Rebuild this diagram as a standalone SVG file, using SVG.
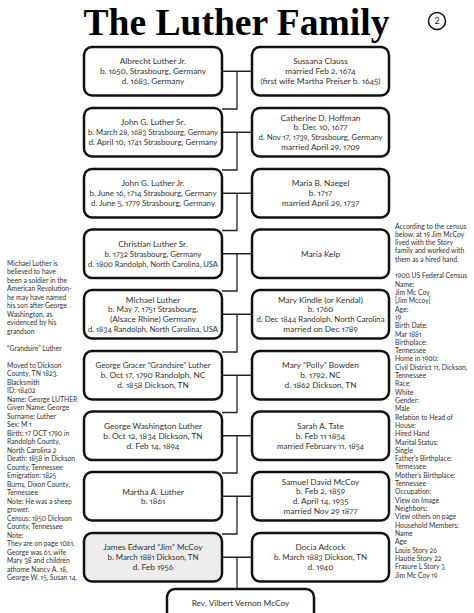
<svg xmlns="http://www.w3.org/2000/svg" width="474" height="613" viewBox="0 0 474 613">
<style>
.bg{fill:#fff}
.box{fill:#fff;stroke:#111;stroke-width:2.5}
.hl{fill:#ececec}
.conn{stroke:#222;stroke-width:1.3;fill:none}
.t{font-family:Lato,"Open Sans",sans-serif;font-size:8.3px;fill:#333;text-anchor:middle;font-variant-numeric:oldstyle-nums proportional-nums}
.s{font-family:Lato,"Open Sans",sans-serif;font-size:6.8px;fill:#333;font-variant-numeric:oldstyle-nums proportional-nums}
.title{font-family:"Liberation Serif","DejaVu Serif",serif;font-weight:bold;font-size:38px;fill:#000;text-anchor:middle}
</style>
<rect class="bg" x="0" y="0" width="474" height="613"/>
<g id="title">
<text class="title" x="236.5" y="35" textLength="306" lengthAdjust="spacingAndGlyphs">The Luther Family</text>
</g>
<g id="page-number">
<circle cx="437" cy="21" r="8.5" fill="#fff" stroke="#111" stroke-width="1.5"/>
<text x="437" y="24.2" style="font-family:Lato,sans-serif;font-size:9px;text-anchor:middle;fill:#111">2</text>
</g>
<g id="connectors">
<path class="conn" d="M217,71.25H256M237,71.25V109H222"/>
<path class="conn" d="M217,132.25H256M237,132.25V170H222"/>
<path class="conn" d="M217,193.25H256M237,193.25V230.5H222"/>
<path class="conn" d="M217,253.75H256M237,253.75V291H222"/>
<path class="conn" d="M217,314.25H256M237,314.25V352H222"/>
<path class="conn" d="M217,375.25H256M237,375.25V412.5H222"/>
<path class="conn" d="M217,435.75H256M237,435.75V473H222"/>
<path class="conn" d="M217,496.25H256M237,496.25V534H222"/>
<path class="conn" d="M217,557.25H256M237,557.25V589"/>
</g>
<g id="albrecht">
<rect class="box" x="84" y="47" width="138" height="48.5" rx="8"/>
<text class="t" x="153" y="64.05">Albrecht Luther Jr.</text>
<text class="t" x="153" y="74.25">b. 1650, Strasbourg, Germany</text>
<text class="t" x="153" y="84.45">d. 1683, Germany</text>
</g>
<g id="sussana">
<rect class="box" x="252" y="47" width="137" height="48.5" rx="8"/>
<text class="t" x="320.5" y="64.05">Sussana Clauss</text>
<text class="t" x="320.5" y="74.25">married Feb 2, 1674</text>
<text class="t" x="320.5" y="84.45" textLength="120" lengthAdjust="spacingAndGlyphs">(first wife Martha Preiser b. 1645)</text>
</g>
<g id="john-sr">
<rect class="box" x="84" y="108" width="138" height="48.5" rx="8"/>
<text class="t" x="153" y="125.05">John G. Luther Sr.</text>
<text class="t" x="153" y="135.25" textLength="130" lengthAdjust="spacingAndGlyphs">b. March 28, 1683 Strasbourg, Germany</text>
<text class="t" x="153" y="145.45" textLength="129" lengthAdjust="spacingAndGlyphs">d. April 10, 1741 Strasbourg, Germany</text>
</g>
<g id="catherine">
<rect class="box" x="252" y="108" width="137" height="48.5" rx="8"/>
<text class="t" x="320.5" y="120.85">Catherine D. Hoffman</text>
<text class="t" x="320.5" y="130.45">b. Dec 10, 1677</text>
<text class="t" x="320.5" y="140.05" textLength="124" lengthAdjust="spacingAndGlyphs">d. Nov 17, 1739, Strasbourg, Germany</text>
<text class="t" x="320.5" y="149.65">married April 29, 1709</text>
</g>
<g id="john-jr">
<rect class="box" x="84" y="169" width="138" height="48.5" rx="8"/>
<text class="t" x="153" y="186.05">John G. Luther Jr.</text>
<text class="t" x="153" y="196.25" textLength="127" lengthAdjust="spacingAndGlyphs">b. June 16, 1714 Strasbourg, Germany</text>
<text class="t" x="153" y="206.45" textLength="124" lengthAdjust="spacingAndGlyphs">d. June 5, 1779 Strasbourg, Germany</text>
</g>
<g id="maria-naegel">
<rect class="box" x="252" y="169" width="137" height="48.5" rx="8"/>
<text class="t" x="320.5" y="186.05">Maria B. Naegel</text>
<text class="t" x="320.5" y="196.25">b. 1717</text>
<text class="t" x="320.5" y="206.45">married April 29, 1737</text>
</g>
<g id="christian">
<rect class="box" x="84" y="229.5" width="138" height="48.5" rx="8"/>
<text class="t" x="153" y="246.55">Christian Luther Sr.</text>
<text class="t" x="153" y="256.75" textLength="97" lengthAdjust="spacingAndGlyphs">b. 1732 Strasbourg, Germany</text>
<text class="t" x="153" y="266.95" textLength="130" lengthAdjust="spacingAndGlyphs">d. 1800 Randolph, North Carolina, USA</text>
</g>
<g id="maria-kelp">
<rect class="box" x="252" y="229.5" width="137" height="48.5" rx="8"/>
<text class="t" x="320.5" y="256.75">Maria Kelp</text>
</g>
<g id="michael">
<rect class="box" x="84" y="290" width="138" height="48.5" rx="8"/>
<text class="t" x="153" y="302.85">Michael Luther</text>
<text class="t" x="153" y="312.45" textLength="90" lengthAdjust="spacingAndGlyphs">b. May 7, 1751 Strasbourg,</text>
<text class="t" x="153" y="322.05">(Alsace Rhine) Germany</text>
<text class="t" x="153" y="331.65" textLength="130" lengthAdjust="spacingAndGlyphs">d. 1834 Randolph, North Carolina, USA</text>
</g>
<g id="mary-kindle">
<rect class="box" x="252" y="290" width="137" height="48.5" rx="8"/>
<text class="t" x="320.5" y="302.85">Mary Kindle (or Kendal)</text>
<text class="t" x="320.5" y="312.45">b. 1760</text>
<text class="t" x="320.5" y="322.05" textLength="128" lengthAdjust="spacingAndGlyphs">d. Dec 1844 Randolph, North Carolina</text>
<text class="t" x="320.5" y="331.65">married on Dec 1789</text>
</g>
<g id="george-gracer">
<rect class="box" x="84" y="351" width="138" height="48.5" rx="8"/>
<text class="t" x="153" y="368.05" textLength="115" lengthAdjust="spacingAndGlyphs">George Gracer “Grandsire” Luther</text>
<text class="t" x="153" y="378.25">b. Oct 17, 1790 Randolph, NC</text>
<text class="t" x="153" y="388.45">d. 1858 Dickson, TN</text>
</g>
<g id="mary-polly">
<rect class="box" x="252" y="351" width="137" height="48.5" rx="8"/>
<text class="t" x="320.5" y="368.05">Mary “Polly” Bowden</text>
<text class="t" x="320.5" y="378.25">b. 1792, NC</text>
<text class="t" x="320.5" y="388.45">d. 1862 Dickson, TN</text>
</g>
<g id="george-washington">
<rect class="box" x="84" y="411.5" width="138" height="48.5" rx="8"/>
<text class="t" x="153" y="428.55">George Washington Luther</text>
<text class="t" x="153" y="438.75">b. Oct 12, 1834 Dickson, TN</text>
<text class="t" x="153" y="448.95">d. Feb 14, 1894</text>
</g>
<g id="sarah">
<rect class="box" x="252" y="411.5" width="137" height="48.5" rx="8"/>
<text class="t" x="320.5" y="428.55">Sarah A. Tate</text>
<text class="t" x="320.5" y="438.75">b. Feb 11 1854</text>
<text class="t" x="320.5" y="448.95" textLength="87" lengthAdjust="spacingAndGlyphs">married February 11, 1854</text>
</g>
<g id="martha">
<rect class="box" x="84" y="472" width="138" height="48.5" rx="8"/>
<text class="t" x="153" y="494.5">Martha A. Luther</text>
<text class="t" x="153" y="504">b. 1861</text>
</g>
<g id="samuel">
<rect class="box" x="252" y="472" width="137" height="48.5" rx="8"/>
<text class="t" x="320.5" y="484.85">Samuel David McCoy</text>
<text class="t" x="320.5" y="494.45">b. Feb 2, 1859</text>
<text class="t" x="320.5" y="504.05">d. April 14, 1935</text>
<text class="t" x="320.5" y="513.65">married Nov 29 1877</text>
</g>
<g id="james">
<rect class="box hl" x="84" y="533" width="138" height="48.5" rx="8"/>
<text class="t" x="153" y="550.05">James Edward “Jim” McCoy</text>
<text class="t" x="153" y="560.25" textLength="91" lengthAdjust="spacingAndGlyphs">b. March 1881 Dickson, TN</text>
<text class="t" x="153" y="570.45">d. Feb 1956</text>
</g>
<g id="docia">
<rect class="box" x="252" y="533" width="137" height="48.5" rx="8"/>
<text class="t" x="320.5" y="550.05">Docia Adcock</text>
<text class="t" x="320.5" y="560.25" textLength="93" lengthAdjust="spacingAndGlyphs">b. March 1883 Dickson, TN</text>
<text class="t" x="320.5" y="570.45">d. 1940</text>
</g>
<g id="vilbert">
<rect class="box" x="167" y="589" width="147" height="50" rx="8"/>
<text class="t" x="240.5" y="606">Rev. Vilbert Vernon McCoy</text>
</g>
<g id="note-left">
<text class="s" x="7" y="265.5"><tspan x="7">Michael Luther is</tspan><tspan x="7" dy="8.5">believed to have</tspan><tspan x="7" dy="8.5">been a soldier in the</tspan><tspan x="7" dy="8.5">American Revolution-</tspan><tspan x="7" dy="8.5">he may have named</tspan><tspan x="7" dy="8.5">his son after George</tspan><tspan x="7" dy="8.5">Washington, as</tspan><tspan x="7" dy="8.5">evidenced by his</tspan><tspan x="7" dy="8.5">grandson</tspan><tspan x="7" dy="17">“Grandsire” Luther</tspan><tspan x="7" dy="17">Moved to Dickson</tspan><tspan x="7" dy="8.5">County, TN 1823.</tspan><tspan x="7" dy="8.5">Blacksmith</tspan><tspan x="7" dy="8.5">ID: 18402</tspan><tspan x="7" dy="8.5">Name: George LUTHER</tspan><tspan x="7" dy="8.5">Given Name: George</tspan><tspan x="7" dy="8.5">Surname: Luther</tspan><tspan x="7" dy="8.5">Sex: M 1</tspan><tspan x="7" dy="8.5">Birth: 17 OCT 1790 in</tspan><tspan x="7" dy="8.5">Randolph County,</tspan><tspan x="7" dy="8.5">North Carolina 2</tspan><tspan x="7" dy="8.5">Death: 1858 in Dickson</tspan><tspan x="7" dy="8.5">County, Tennessee</tspan><tspan x="7" dy="8.5">Emigration: 1825</tspan><tspan x="7" dy="8.5">Burns, Dixon County,</tspan><tspan x="7" dy="8.5">Tennessee</tspan><tspan x="7" dy="8.5">Note: He was a sheep</tspan><tspan x="7" dy="8.5">grower.</tspan><tspan x="7" dy="8.5">Census: 1850 Dickson</tspan><tspan x="7" dy="8.5">County, Tennessee</tspan><tspan x="7" dy="8.5">Note:</tspan><tspan x="7" dy="8.5">They are on page 1061.</tspan><tspan x="7" dy="8.5">George was 61, wife</tspan><tspan x="7" dy="8.5">Mary 38 and children</tspan><tspan x="7" dy="8.5">athome Nancy A. 18,</tspan><tspan x="7" dy="8.5">George W. 15, Susan 14.</tspan></text>
</g>
<g id="note-right">
<text class="s" x="395" y="228.5"><tspan x="395">According to the census</tspan><tspan x="395" dy="8.31">below, at 19 Jim McCoy</tspan><tspan x="395" dy="8.31">lived with the Story</tspan><tspan x="395" dy="8.31">family and worked with</tspan><tspan x="395" dy="8.31">them as a hired hand.</tspan><tspan x="395" dy="16.62">1900 US Federal Census</tspan><tspan x="395" dy="8.31">Name:</tspan><tspan x="395" dy="8.31">Jim Mc Coy</tspan><tspan x="395" dy="8.31">[Jim Mccoy]</tspan><tspan x="395" dy="8.31">Age:</tspan><tspan x="395" dy="8.31">19</tspan><tspan x="395" dy="8.31">Birth Date:</tspan><tspan x="395" dy="8.31">Mar 1881</tspan><tspan x="395" dy="8.31">Birthplace:</tspan><tspan x="395" dy="8.31">Tennessee</tspan><tspan x="395" dy="8.31">Home in 1900:</tspan><tspan x="395" dy="8.31">Civil District 11, Dickson,</tspan><tspan x="395" dy="8.31">Tennessee</tspan><tspan x="395" dy="8.31">Race:</tspan><tspan x="395" dy="8.31">White</tspan><tspan x="395" dy="8.31">Gender:</tspan><tspan x="395" dy="8.31">Male</tspan><tspan x="395" dy="8.31">Relation to Head of</tspan><tspan x="395" dy="8.31">House:</tspan><tspan x="395" dy="8.31">Hired Hand</tspan><tspan x="395" dy="8.31">Marital Status:</tspan><tspan x="395" dy="8.31">Single</tspan><tspan x="395" dy="8.31">Father's Birthplace:</tspan><tspan x="395" dy="8.31">Tennessee</tspan><tspan x="395" dy="8.31">Mother's Birthplace:</tspan><tspan x="395" dy="8.31">Tennessee</tspan><tspan x="395" dy="8.31">Occupation:</tspan><tspan x="395" dy="8.31">View on Image</tspan><tspan x="395" dy="8.31">Neighbors:</tspan><tspan x="395" dy="8.31">View others on page</tspan><tspan x="395" dy="8.31">Household Members:</tspan><tspan x="395" dy="8.31">Name</tspan><tspan x="395" dy="8.31">Age</tspan><tspan x="395" dy="8.31">Louis Story 26</tspan><tspan x="395" dy="8.31">Hautie Story 22</tspan><tspan x="395" dy="8.31">Frasure L Story 3</tspan><tspan x="395" dy="8.31">Jim Mc Coy 19</tspan></text>
</g>
</svg>
